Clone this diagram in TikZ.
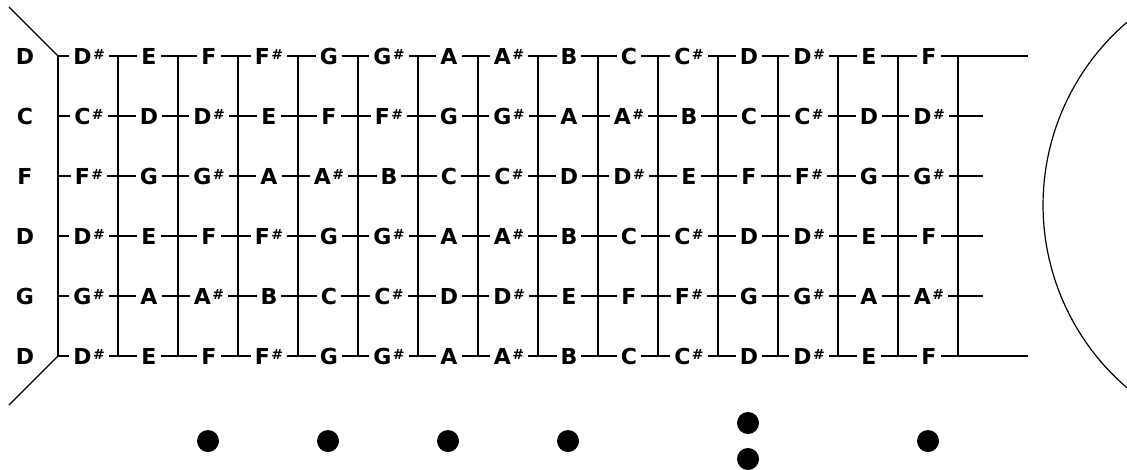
\documentclass[tikz,border=0pt]{standalone}
\usepackage{fontspec}
\setmainfont{Liberation Sans}
\newfontfamily\fretfont{DejaVu Sans}

\newcommand{\shrp}{\kern1.5pt\raisebox{0.4ex}{\fontsize{14}{14}\selectfont\#}}

\begin{document}
\begin{tikzpicture}[
  x=1pt, y=-1pt,
  gstring/.style={line width=2pt},
  fret/.style={line width=2pt},
  notelab/.style={fill=white, inner xsep=4pt, inner ysep=1pt,
                  font=\fretfont\fontsize{22}{22}\selectfont\bfseries},
  openlab/.style={font=\fretfont\fontsize{22}{22}\selectfont\bfseries},
  body/.style={line width=1.2pt},
  inlay/.style={fill=black}
]
\useasboundingbox (0,0) rectangle (1127,469);

% ----- nut -----
\coordinate (nuttop) at (58,56);
\coordinate (nutbot) at (58,356);
\coordinate (headtop) at (9,7);
\coordinate (headbot) at (9,405);
\draw[body] (headtop) -- (nuttop);
\draw[body] (nutbot) -- (headbot);

% ----- frets -----
\foreach \k in {0,...,15}
  \draw[fret] (58+60*\k,56) -- (58+60*\k,356);

% ----- strings and notes -----
\foreach \j/\op/\send/\notes in {
    0/D/1028/{D\shrp,E,F,F\shrp,G,G\shrp,A,A\shrp,B,C,C\shrp,D,D\shrp,E,F},
    1/C/983/{C\shrp,D,D\shrp,E,F,F\shrp,G,G\shrp,A,A\shrp,B,C,C\shrp,D,D\shrp},
    2/F/983/{F\shrp,G,G\shrp,A,A\shrp,B,C,C\shrp,D,D\shrp,E,F,F\shrp,G,G\shrp},
    3/D/983/{D\shrp,E,F,F\shrp,G,G\shrp,A,A\shrp,B,C,C\shrp,D,D\shrp,E,F},
    4/G/983/{G\shrp,A,A\shrp,B,C,C\shrp,D,D\shrp,E,F,F\shrp,G,G\shrp,A,A\shrp},
    5/D/1028/{D\shrp,E,F,F\shrp,G,G\shrp,A,A\shrp,B,C,C\shrp,D,D\shrp,E,F}}
{
  \pgfmathsetmacro{\y}{56+60*\j}
  \coordinate (s\j a) at (58,\y);
  \coordinate (s\j b) at (\send,\y);
  \draw[gstring] (s\j a) -- (s\j b);
  \node[openlab] (open\j) at (25,\y) {\op};
  \foreach \n [count=\k from 0] in \notes
    \node[notelab] (n\j-\k) at (89+60*\k,\y) {\n};
}

% ----- sound hole -----
\draw[body] (1127,22.2) arc[start angle=-130.66, end angle=-229.34,
                            radius=241];

% ----- inlays -----
\foreach \x in {208,328,448,568,928}
  \fill[inlay] (\x,441) circle[radius=11];
\fill[inlay] (748,423) circle[radius=11];
\fill[inlay] (748,459) circle[radius=11];

\end{tikzpicture}
\end{document}
